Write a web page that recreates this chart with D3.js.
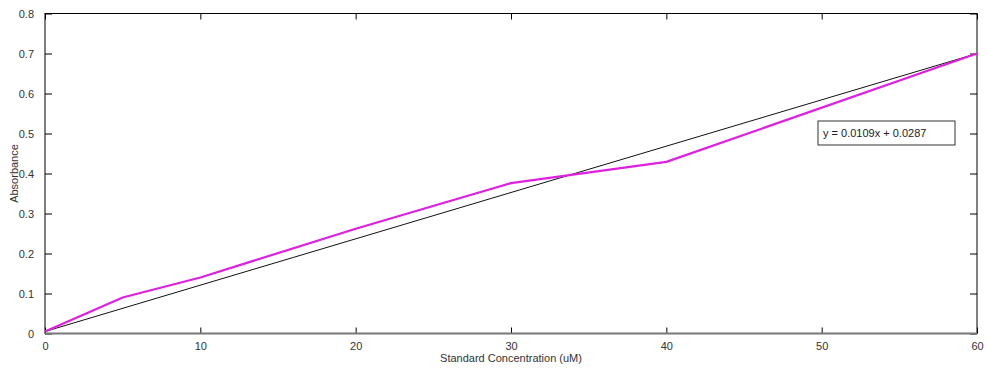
<!DOCTYPE html>
<html>
<head>
<meta charset="utf-8">
<script src="https://cdn.jsdelivr.net/npm/d3@7"></script>
<style>
  body { margin: 0; background: #fff; }
  text { font-family: "Liberation Sans", Arial, sans-serif; }
</style>
</head>
<body>
<div id="vis"></div>
<script>
// measured values (standard curve)
const conc = [0, 5, 10, 20, 30, 40, 60]
const absorb = [0.005, 0.09, 0.14, 0.262, 0.376, 0.429, 0.70]

// fitted line, as drawn
const fitX = [0, 60]
const fitY = [0.005, 0.70]
const fitLabel = 'y = 0.0109x + 0.0287'

const xTicks = [0, 10, 20, 30, 40, 50, 60]
const yTicks = [0, 0.1, 0.2, 0.3, 0.4, 0.5, 0.6, 0.7, 0.8]

const W = 987, H = 374
const margin = {left: 45, top: 13, right: 10, bottom: 40}

let svg = d3.select('#vis').append('svg')
    .attr('width', W)
    .attr('height', H)

const x = d3.scaleLinear([0, 60], [margin.left, W - margin.right])
const y = d3.scaleLinear([0, 0.8], [H - margin.bottom - 0.5, margin.top + 0.5])

const fmt = d => d === 0 ? '0' : d3.format('.1f')(d)

// axes, ticks pointing inward
svg.append('g')
    .attr('transform', `translate(${margin.left},0)`)
    .call(d3.axisLeft(y).tickValues(yTicks).tickFormat(fmt).tickSizeInner(-7).tickSizeOuter(0).tickPadding(11))
    .call(g => g.select('.domain').remove())

svg.append('g')
    .attr('transform', `translate(${W - margin.right},0)`)
    .call(d3.axisRight(y).tickValues(yTicks).tickFormat('').tickSizeInner(-7).tickSizeOuter(0))
    .call(g => g.select('.domain').remove())

svg.append('g')
    .attr('transform', `translate(0,${y(0)})`)
    .call(d3.axisBottom(x).tickValues(xTicks).tickSizeInner(-6).tickSizeOuter(0).tickPadding(9))
    .call(g => g.select('.domain').remove())

svg.append('g')
    .attr('transform', `translate(0,${y(0.8)})`)
    .call(d3.axisTop(x).tickValues(xTicks).tickFormat('').tickSizeInner(-6).tickSizeOuter(0))
    .call(g => g.select('.domain').remove())

svg.selectAll('.tick text')
    .attr('font-size', 11)
    .attr('fill', '#333')
svg.selectAll('.tick line').attr('stroke', '#000')

// frame
svg.append('rect')
    .attr('x', x(0))
    .attr('y', y(0.8))
    .attr('width', x(60) - x(0))
    .attr('height', y(0) - y(0.8))
    .attr('fill', 'none')
    .attr('stroke', '#000')
    .attr('stroke-width', 1)

svg.append('line')
    .attr('x1', x(0)).attr('x2', x(60))
    .attr('y1', y(0)).attr('y2', y(0))
    .attr('stroke', '#777')
    .attr('stroke-width', 2)

// fit line
svg.append('path')
    .datum(d3.zip(fitX, fitY))
    .attr('d', d3.line().x(d => x(d[0])).y(d => y(d[1])))
    .attr('fill', 'none')
    .attr('stroke', '#111')
    .attr('stroke-width', 1)

// data line
svg.append('path')
    .datum(d3.zip(conc, absorb))
    .attr('d', d3.line().x(d => x(d[0])).y(d => y(d[1])))
    .attr('fill', 'none')
    .attr('stroke', '#e020e0')
    .attr('stroke-width', 2.2)
    .attr('stroke-linejoin', 'round')

// equation box
let box = svg.append('g').attr('transform', 'translate(818,121)')
box.append('rect')
    .attr('width', 137).attr('height', 24)
    .attr('fill', '#fff')
    .attr('stroke', '#333')
    .attr('stroke-width', 1)
box.append('text')
    .attr('x', 5).attr('y', 16)
    .attr('font-size', 11)
    .attr('fill', '#222')
    .text(fitLabel)

// axis titles
svg.append('text')
    .attr('x', (x(0) + x(60)) / 2)
    .attr('y', 362)
    .attr('text-anchor', 'middle')
    .attr('font-size', 11)
    .attr('fill', '#333')
    .text('Standard Concentration (uM)')

svg.append('text')
    .attr('transform', `translate(18,${(y(0) + y(0.8)) / 2}) rotate(-90)`)
    .attr('text-anchor', 'middle')
    .attr('font-size', 11)
    .attr('fill', '#333')
    .text('Absorbance')
</script>
</body>
</html>
